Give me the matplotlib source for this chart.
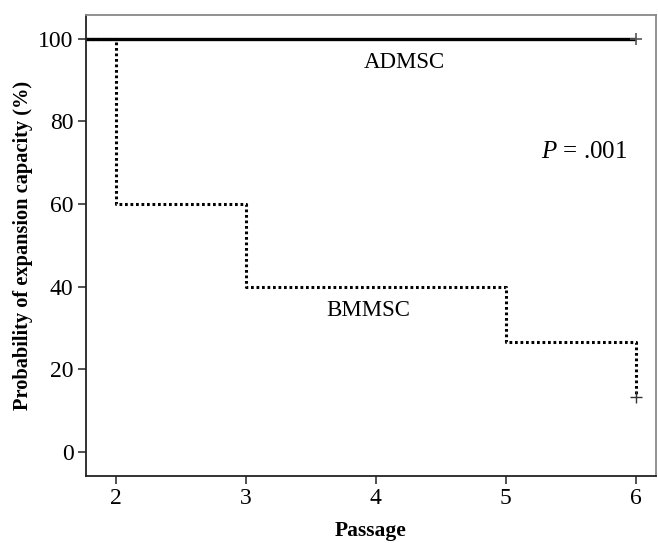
import matplotlib
matplotlib.use("Agg")
import matplotlib.pyplot as plt

# Kaplan-Meier style step data (passage vs. % with expansion capacity)
ad_passage = [1.77, 6]
ad_prob = [100, 100]
ad_censor_x = [6]
ad_censor_y = [100]

bm_passage = [1.77, 2, 3, 5, 6]
bm_prob = [100, 60, 40, 26.67, 13.33]
bm_censor_x = [6]
bm_censor_y = [13.33]

x_ticks = [2, 3, 4, 5, 6]
y_ticks = [0, 20, 40, 60, 80, 100]

plt.rcParams["font.family"] = ["Liberation Serif", "DejaVu Serif"]
plt.rcParams["mathtext.fontset"] = "custom"
plt.rcParams["mathtext.it"] = "Liberation Serif:italic"
plt.rcParams["mathtext.rm"] = "Liberation Serif"

fig = plt.figure(figsize=(6.58, 5.43), dpi=100)
ax = fig.add_axes([0.1307, 0.1234, 0.8663, 0.849])

ax.step(ad_passage, ad_prob, where="post", color="black", lw=2.4, solid_capstyle="butt")
ax.plot(ad_censor_x, ad_censor_y, marker="+", ms=9, mew=1.2, color="#555555", ls="none")

ax.step(bm_passage, bm_prob, where="post", color="black", lw=2.2, ls=(0, (0.9, 0.9)))
ax.plot(bm_censor_x, bm_censor_y, marker="+", ms=9, mew=1.0, color="#333333", ls="none")

ax.text(4.22, 94.3, "ADMSC", fontsize=16.5, ha="center", va="center")
ax.text(3.94, 34.2, "BMMSC", fontsize=16.5, ha="center", va="center")
ax.text(5.6, 72.5, r"$P$ = .001", fontsize=18, ha="center", va="center")

ax.set_xlim(1.77, 6.155)
ax.set_ylim(-5.9, 105.8)
ax.set_xticks(x_ticks)
ax.set_yticks(y_ticks)
ax.tick_params(direction="out", length=6, width=1.2, color="#333333", labelsize=17, pad=3)

for side in ["left", "bottom"]:
    ax.spines[side].set_color("#222222")
    ax.spines[side].set_linewidth(1.3)
for side in ["top", "right"]:
    ax.spines[side].set_color("#888888")
    ax.spines[side].set_linewidth(1.3)

ax.set_ylabel("Probability of expansion capacity (%)", fontsize=14.7, fontweight="bold", labelpad=4)
ax.set_xlabel("Passage", fontsize=15.5, fontweight="bold", labelpad=8)

fig.savefig("out.png", dpi=100)
